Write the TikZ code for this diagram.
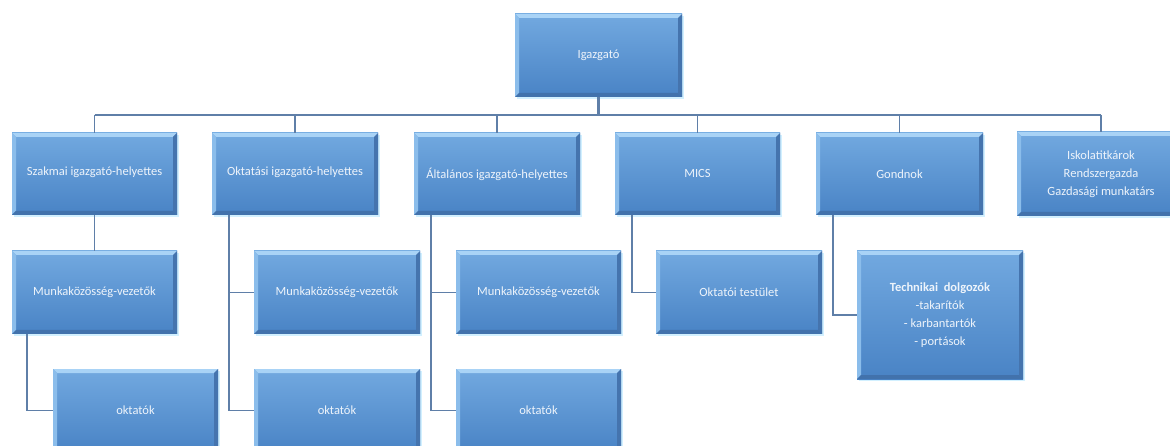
\documentclass[tikz,border=0pt]{standalone}
\usepackage{fontspec}
\setmainfont{Carlito}
\definecolor{boxtop}{HTML}{72A9E0}
\definecolor{boxbot}{HTML}{4983C5}
\definecolor{bevtop}{HTML}{A9D3F6}
\definecolor{bevleft}{HTML}{8BBDEB}
\definecolor{bevright}{HTML}{4574AE}
\definecolor{bevbot}{HTML}{4272AC}
\definecolor{glow}{HTML}{D2F0FF}
\definecolor{lincol}{HTML}{5F7FA8}
\definecolor{txtcol}{HTML}{EEF4FB}
\tikzset{
  bx/.style={rectangle, minimum width=166pt, minimum height=83pt, inner sep=2pt, outer sep=0pt,
    top color=boxtop, bottom color=boxbot, text=txtcol, align=center,
    font=\fontsize{12.5}{18}\selectfont,
    path picture={
      \fill[bevtop] (path picture bounding box.north west) -- (path picture bounding box.north east)
        -- ([shift={(-4pt,-4pt)}]path picture bounding box.north east) -- ([shift={(4pt,-4pt)}]path picture bounding box.north west) -- cycle;
      \fill[bevleft] (path picture bounding box.north west) -- ([shift={(4pt,-4pt)}]path picture bounding box.north west)
        -- ([shift={(4pt,4pt)}]path picture bounding box.south west) -- (path picture bounding box.south west) -- cycle;
      \fill[bevright] (path picture bounding box.north east) -- ([shift={(-4pt,-4pt)}]path picture bounding box.north east)
        -- ([shift={(-4pt,4pt)}]path picture bounding box.south east) -- (path picture bounding box.south east) -- cycle;
      \fill[bevbot] (path picture bounding box.south west) -- ([shift={(4pt,4pt)}]path picture bounding box.south west)
        -- ([shift={(-4pt,4pt)}]path picture bounding box.south east) -- (path picture bounding box.south east) -- cycle;
    },
    append after command={
      \pgfextra{\draw[glow, line width=1.5pt] ([shift={(1pt,-2pt)}]\tikzlastnode.north east) -- ([shift={(1pt,-1pt)}]\tikzlastnode.south east) -- ([shift={(2pt,-1pt)}]\tikzlastnode.south west);}
    }},
  conn/.style={draw=lincol, line width=1.5pt},
}
\begin{document}
\begin{tikzpicture}[x=1pt, y=-1pt]
\useasboundingbox (0,0) rectangle (1170,446);
\clip (0,0) rectangle (1170,446);
% nodes
\node[bx, minimum width=167pt] (igaz) at (598.5,55.5) {Igazgató};
\node[bx, minimum width=165pt, minimum height=82pt] (szak) at (94.5,174) {\raisebox{5pt}{Szakmai igazgató-helyettes}};
\node[bx, minimum height=82pt] (oktig) at (295,174) {\raisebox{5pt}{Oktatási igazgató-helyettes}};
\node[bx, minimum height=82pt] (alt) at (497,174) {\raisebox{2pt}{Általános igazgató-helyettes}};
\node[bx, minimum width=165pt, minimum height=82pt] (mics) at (697.5,174) {\raisebox{2pt}{MICS}};
\node[bx, minimum width=167pt, minimum height=82pt] (gond) at (899.5,174) {Gondnok};
\node[bx, minimum width=168pt, minimum height=84pt] (isk) at (1101,174) {Iskolatitkárok\\Rendszergazda\\Gazdasági munkatárs};
\node[bx, minimum width=165pt] (munka1) at (94.5,292.5) {Munkaközösség-vezetők};
\node[bx] (munka2) at (337,292.5) {Munkaközösség-vezetők};
\node[bx, minimum width=165pt] (munka3) at (538.5,292.5) {Munkaközösség-vezetők};
\node[bx] (oktatoi) at (739,292.5) {Oktatói testület};
\node[bx, minimum height=128pt] (tech) at (940,315) {\textbf{Technikai\ \ dolgozók}\\-takarítók\\- karbantartók\\- portások};
\node[bx, minimum width=165pt] (okt1) at (135.5,410.5) {oktatók};
\node[bx] (okt2) at (337,410.5) {oktatók};
\node[bx, minimum width=165pt] (okt3) at (538.5,410.5) {oktatók};
% connectors
\coordinate (busL) at (94.5,115);
\coordinate (busR) at (1101,115);
\coordinate (busM) at (598.5,115);
\draw[conn, line width=3pt] (igaz.south) -- (busM);
\draw[conn] (busL) -- (busR);
\draw[conn] (busL) -- (szak.north);
\draw[conn] (oktig.north |- busL) -- (oktig.north);
\draw[conn] (alt.north |- busL) -- (alt.north);
\draw[conn] (mics.north |- busL) -- (mics.north);
\draw[conn] (gond.north |- busL) -- (gond.north);
\draw[conn] (busR) -- (isk.north);
% column 1
\draw[conn] (szak.south) -- (munka1.north);
\coordinate (c1) at (27,334);
\draw[conn] (c1) |- (okt1.west);
% column 2
\coordinate (c2) at (229,215);
\draw[conn] (c2) |- (okt2.west);
\draw[conn] (c2 |- munka2.west) -- (munka2.west);
% column 3
\coordinate (c3) at (431,215);
\draw[conn] (c3) |- (okt3.west);
\draw[conn] (c3 |- munka3.west) -- (munka3.west);
% column 4
\coordinate (c4) at (632,215);
\draw[conn] (c4) |- (oktatoi.west);
% column 5
\coordinate (c5) at (833,215);
\draw[conn] (c5) |- (tech.west);
\end{tikzpicture}
\end{document}
